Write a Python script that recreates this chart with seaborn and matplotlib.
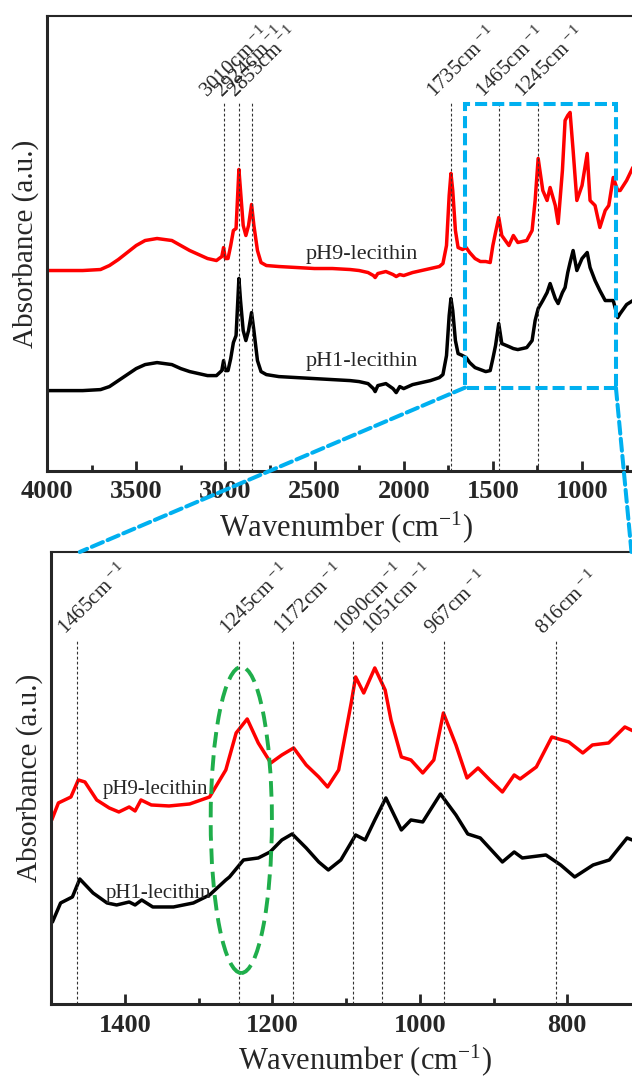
import numpy as np
import pandas as pd
import seaborn as sns
import matplotlib.pyplot as plt
from matplotlib.patches import Rectangle, Ellipse, ConnectionPatch
from matplotlib.ticker import MultipleLocator

# ---- full spectrum (top panel), absorbance in arbitrary units ----
top_wn = [4000, 3900, 3800, 3700, 3650, 3600, 3550, 3500, 3450, 3383, 3300, 3250, 3200, 3150,
          3100, 3050, 3020, 3010, 3000, 2985, 2970, 2955, 2940, 2924, 2915, 2900, 2885, 2870,
          2853, 2840, 2820, 2800, 2770, 2700, 2600, 2500, 2400, 2300, 2250, 2200, 2170, 2160,
          2145, 2100, 2060, 2042, 2022, 2000, 1950, 1900, 1850, 1800, 1780, 1760, 1745, 1735,
          1725, 1710, 1695, 1670, 1650, 1630, 1600, 1570, 1540, 1515, 1500, 1485, 1467, 1450,
          1410, 1385, 1360, 1310, 1280, 1263, 1246, 1220, 1196, 1179, 1150, 1134, 1110, 1095,
          1080, 1067, 1050, 1029, 1000, 971, 955, 927, 900, 870, 850, 825, 800, 786, 750, 715]
top_ph9 = [200, 200, 200, 201, 205, 211, 218, 225, 230, 232, 230, 225, 220, 216,
           212, 210, 214, 223, 212, 212, 225, 240, 242, 301, 280, 245, 235, 245,
           266, 245, 220, 208, 205, 204, 203, 202, 202, 201, 200, 198, 195, 193,
           197, 199, 196, 194, 196, 195, 198, 200, 202, 204, 207, 225, 275, 297,
           280, 240, 223, 221, 223, 218, 212, 209, 209, 208, 225, 238, 253, 235,
           225, 235, 228, 230, 240, 270, 312, 280, 270, 283, 265, 247, 300, 350,
           355, 358, 320, 270, 285, 317, 270, 265, 243, 260, 265, 293, 280, 280, 290, 303]
top_ph1 = [80, 80, 80, 81, 84, 90, 96, 102, 106, 108, 106, 102, 99, 97,
           95, 95, 100, 110, 100, 100, 112, 128, 135, 192, 170, 140, 130, 140,
           158, 140, 110, 99, 96, 94, 93, 92, 91, 90, 89, 87, 82, 79,
           85, 87, 82, 78, 84, 82, 86, 88, 90, 93, 96, 115, 155, 172,
           160, 130, 117, 115, 113, 108, 103, 101, 99, 100, 112, 125, 147, 127,
           124, 122, 121, 123, 130, 150, 162, 170, 178, 187, 172, 167, 178, 183,
           198, 208, 220, 200, 212, 218, 203, 190, 180, 170, 170, 170, 153, 157, 166, 170]

# ---- fingerprint region (bottom panel) ----
bot_wn_ph9 = [1499, 1490, 1473, 1463, 1454, 1438, 1421, 1408, 1394, 1386, 1378, 1364, 1340, 1312,
              1285, 1263, 1249, 1234, 1219, 1202, 1187, 1171, 1154, 1137, 1125, 1110, 1093, 1087,
              1076, 1061, 1047, 1039, 1025, 1012, 996, 981, 968, 951, 936, 921, 905, 888,
              872, 864, 842, 821, 798, 779, 766, 744, 722, 705]
bot_ph9 = [184, 201, 207, 224, 222, 204, 196, 192, 197, 193, 204, 199, 198, 200,
           207, 234, 271, 285, 261, 241, 249, 256, 239, 227, 217, 234, 301, 327,
           311, 336, 314, 284, 247, 244, 231, 244, 291, 259, 226, 236, 224, 212,
           229, 225, 237, 267, 262, 251, 259, 261, 277, 271]
bot_wn_ph1 = [1498, 1487, 1471, 1461, 1443, 1424, 1411, 1394, 1386, 1377, 1362, 1334, 1307, 1285,
              1263, 1258, 1239, 1219, 1203, 1187, 1173, 1154, 1137, 1124, 1107, 1087, 1074, 1061,
              1046, 1025, 1012, 996, 972, 951, 935, 918, 888, 872, 861, 829, 809, 790,
              765, 743, 719, 705]
bot_ph1 = [82, 101, 107, 125, 111, 101, 99, 102, 99, 104, 97, 97, 101, 109,
           124, 127, 144, 146, 152, 164, 170, 156, 142, 134, 144, 169, 164, 184,
           206, 174, 184, 182, 210, 189, 170, 166, 142, 152, 146, 149, 139, 127,
           139, 144, 166, 162]

top_peaks = [3010, 2924, 2853, 1735, 1465, 1245]
bot_peaks = [1465, 1245, 1172, 1090, 1051, 967, 816]
samples = ["pH9-lecithin", "pH1-lecithin"]
colors = {"pH9-lecithin": "#ff0000", "pH1-lecithin": "#000000"}

df_top = pd.concat([
    pd.DataFrame({"wn": top_wn, "abs": top_ph9, "sample": samples[0]}),
    pd.DataFrame({"wn": top_wn, "abs": top_ph1, "sample": samples[1]}),
])
df_bot = pd.concat([
    pd.DataFrame({"wn": bot_wn_ph9, "abs": bot_ph9, "sample": samples[0]}),
    pd.DataFrame({"wn": bot_wn_ph1, "abs": bot_ph1, "sample": samples[1]}),
])

sns.set_style("ticks")
plt.rcParams['font.family'] = ['Liberation Serif', 'DejaVu Serif']
plt.rcParams['mathtext.fontset'] = 'custom'
plt.rcParams['mathtext.rm'] = 'Liberation Serif'
plt.rcParams['mathtext.it'] = 'Liberation Serif:italic'
plt.rcParams['mathtext.bf'] = 'Liberation Serif:bold'

fig = plt.figure(figsize=(6.32, 10.77), dpi=100)
ax1 = fig.add_axes([0.0744, 0.563, 0.9453, 0.4218])
ax2 = fig.add_axes([0.0807, 0.0678, 0.992, 0.4197])

BLUE = "#00b0f0"
GREEN = "#1fae4b"


def style_axis(ax, major, minor):
    ax.set_yticks([])
    ax.xaxis.set_major_locator(MultipleLocator(major))
    ax.xaxis.set_minor_locator(MultipleLocator(minor))
    ax.tick_params(axis='x', which='major', direction='in', length=7, width=2,
                   pad=7, labelsize=19)
    ax.tick_params(axis='x', which='minor', direction='in', length=4, width=2)
    for lab in ax.get_xticklabels():
        lab.set_fontweight('bold')
    for s in ["left", "bottom", "right"]:
        ax.spines[s].set_linewidth(2.2)
    ax.spines["top"].set_linewidth(1.5)
    ax.set_xlabel("Wavenumber (cm$^{-1}$)", fontsize=22, labelpad=4)
    ax.set_ylabel("Absorbance (a.u.)", fontsize=21, labelpad=6)


# ---- top panel ----
sns.lineplot(data=df_top, x="wn", y="abs", hue="sample", palette=colors,
             estimator=None, linewidth=2.5, legend=False, ax=ax1)
ax1.set_xlim(4000, 650)
ax1.set_ylim(0, 454)
ax1.vlines(top_peaks, 0, 367, colors="#333333", linewidth=0.8, linestyles=(0, (2.5, 2)))
for p in top_peaks:
    ax1.annotate(f"{p}cm$^{{\\,-1}}$", xy=(p, 367), xytext=(-9, 1), textcoords="offset points",
                 rotation=45, rotation_mode="anchor", ha="left", va="bottom", fontsize=15)
ax1.text(2233, 216, "pH9-lecithin", ha="center", va="center", fontsize=16)
ax1.text(2233, 109, "pH1-lecithin", ha="center", va="center", fontsize=16)
ax1.add_patch(Rectangle((810, 83), 1656 - 810, 366 - 83, fill=False, edgecolor=BLUE,
                        linewidth=2.9, linestyle=(0, (3, 1.25)), zorder=5))
style_axis(ax1, 500, 250)

# ---- bottom panel ----
sns.lineplot(data=df_bot, x="wn", y="abs", hue="sample", palette=colors,
             estimator=None, linewidth=2.5, legend=False, ax=ax2)
ax2.set_xlim(1500, 650)
ax2.set_ylim(0, 452)
ax2.vlines(bot_peaks, 0, 364, colors="#333333", linewidth=0.8, linestyles=(0, (2.5, 2)))
for p in bot_peaks:
    ax2.annotate(f"{p}cm$^{{\\,-1}}$", xy=(p, 364), xytext=(-6, 1), textcoords="offset points",
                 rotation=45, rotation_mode="anchor", ha="left", va="bottom", fontsize=15)
ax2.text(1358, 214, "pH9-lecithin", ha="center", va="center", fontsize=15)
ax2.text(1354, 110, "pH1-lecithin", ha="center", va="center", fontsize=15)
ax2.add_patch(Ellipse((1242, 184), 83, 306, fill=False, edgecolor=GREEN,
                      linewidth=2.8, linestyle=(0, (4, 2)), zorder=5))
style_axis(ax2, 200, 100)

# zoom connector lines
for xa, xb in [(1656, 1461), (810, 713)]:
    con = ConnectionPatch(xyA=(xa, 83), coordsA=ax1.transData,
                          xyB=(xb, 452), coordsB=ax2.transData,
                          color=BLUE, linewidth=2.9, linestyle=(0, (3, 1.25)))
    fig.add_artist(con)

fig.savefig("out.png", dpi=100)
